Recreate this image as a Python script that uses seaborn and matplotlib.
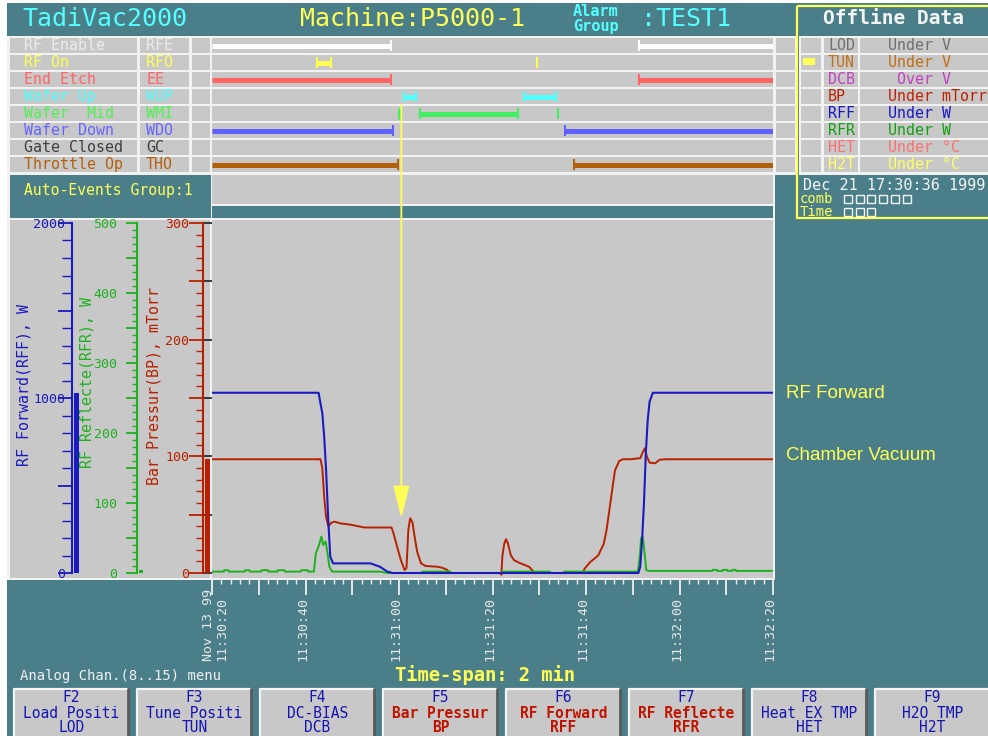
import matplotlib
matplotlib.use("Agg")
import matplotlib.pyplot as plt
from matplotlib.patches import Rectangle
from matplotlib.ticker import MultipleLocator, FixedLocator, FixedFormatter, NullFormatter
from matplotlib.transforms import ScaledTranslation
import pandas as pd
import seaborn as sns

# ---------------- data ----------------
# time axis: seconds after 11:30:20
TIME_TICKS = [0, 20, 40, 60, 80, 100, 120]
TIME_LABELS = ["11:30:20", "11:30:40", "11:31:00", "11:31:20", "11:31:40", "11:32:00", "11:32:20"]
DATE_LABEL = "Nov 13 99"

RFF_T = [0, 22.8, 23.2, 23.6, 24.0, 24.4, 24.9, 25.3, 25.9, 33.9, 35.9, 37.5, 38.7,
         91.2, 91.6, 92.0, 92.4, 92.8, 93.2, 93.6, 94.3, 120]
RFF_V = [1030, 1030, 970, 913, 779, 589, 285, 93, 55, 55, 36, 8, 0,
         0, 36, 189, 400, 686, 874, 979, 1030, 1030]

BP_T = [0, 23.2, 23.6, 24.0, 24.4, 24.9, 25.5, 26.2, 27.5, 29.5, 32.6, 38.4, 38.8, 39.6,
        40.4, 41.2, 41.6, 42.0, 42.4, 42.9, 43.3, 43.9, 44.7, 45.7, 48.2, 49.4, 50.2, 51.0,
        61.7, 61.9, 62.1, 62.5, 62.9, 63.3, 63.9, 64.6, 65.8, 67.8, 68.6, 69.0,
        79.3, 79.7, 80.9, 82.6, 83.8, 84.4, 85.0, 85.7, 86.2, 87.1, 87.9, 89.5,
        91.6, 92.2, 92.6, 93.0, 93.6, 94.8, 95.7, 96.9, 120]
BP_V = [97.5, 97.5, 90, 65, 48, 40, 43, 44, 42.5, 41.5, 39, 39, 34.3, 22.5,
        11, 2.6, 4.3, 37, 47, 43, 32, 18, 8.3, 6, 5.4, 4.3, 2.9, 0,
        0, -1.5, 14, 25, 29, 25.4, 15.4, 11, 8.6, 5.4, 2, 0,
        0, 3.7, 9.4, 15, 25, 37, 54, 74, 88, 96, 97.5, 97.5,
        98.4, 104, 107, 100, 94.6, 94, 97, 97.5, 97.5]

RFR_T = [0, 2.5, 2.6, 3.5, 3.6, 7.0, 7.1, 8.0, 8.1, 10.5, 10.6, 12.0, 12.1, 14.0, 14.1,
         15.5, 15.6, 19.0, 19.1, 20.5, 20.6, 21.8, 22.2, 22.8, 23.4, 23.8, 24.3, 24.7,
         25.1, 25.7, 35.9, 37.5, 44.9, 45.0, 51.0, 51.1, 62.0, 62.1, 72.3, 72.4, 75.2,
         75.3, 91.1, 91.5, 91.8, 92.1, 92.3, 92.6, 92.9, 93.6, 107.0, 107.1, 108.0,
         108.1, 109.2, 109.3, 110.2, 110.3, 111.2, 111.3, 112.0, 112.1, 120]
RFR_V = [2, 2, 4, 4, 2, 2, 4, 4, 2, 2, 4, 4, 2, 2, 4,
         4, 2, 2, 4, 4, 2, 2, 28, 38, 52, 40, 45, 29,
         9, 2, 2, 0, 0, 2, 2, 0, 0, 2, 2, 0, 0,
         2, 2, 24, 50, 52, 43, 24, 4, 3, 3, 4.5, 4.5,
         3, 3, 4.5, 4.5, 3, 3, 4.5, 4.5, 3, 3]

CURSOR_T = 40.5

EVENT_NAMES = ["RF Enable", "RF On", "End Etch", "Wafer Up", "Wafer  Mid",
               "Wafer Down", "Gate Closed", "Throttle Op"]
EVENT_CODES = ["RFE", "RFO", "EE", "WUP", "WMI", "WDO", "GC", "THO"]
EVENT_SPANS = [
    [(0, 38.3), (91.4, 120)],
    [(22.5, 25.5)],
    [(0, 38.3), (91.4, 120)],
    [(41.1, 43.6), (66.7, 73.6)],
    [(44.5, 65.5)],
    [(0, 38.7), (75.5, 120)],
    [],
    [(0, 39.8), (77.4, 120)],
]
EVENT_MARKS = [[], [69.5], [], [], [40.0, 74.0], [], [], []]

ALARM_CODES = ["LOD", "TUN", "DCB", "BP", "RFF", "RFR", "HET", "H2T"]
ALARM_TEXTS = ["Under V", "Under V", " Over V", "Under mTorr",
               "Under W", "Under W", "Under °C", "Under °C"]

GAUGE_RFF = 1030
GAUGE_RFR = 4
GAUGE_BP = 98

FKEY_NUMS = ["F2", "F3", "F4", "F5", "F6", "F7", "F8", "F9"]
FKEY_NAMES = ["Load Positi", "Tune Positi", "DC-BIAS", "Bar Pressur",
              "RF Forward", "RF Reflecte", "Heat EX TMP", "H2O TMP"]
FKEY_CODES = ["LOD", "TUN", "DCB", "BP", "RFF", "RFR", "HET", "H2T"]
FKEY_ACTIVE = [False, False, False, True, True, True, False, False]

# ---------------- style ----------------
sns.set_theme(style="white")
plt.rcParams["font.family"] = ["DejaVu Sans Mono", "DejaVu Sans"]
MONO = ["DejaVu Sans Mono", "DejaVu Sans"]
SANS = ["Liberation Sans", "DejaVu Sans"]

TEAL = "#4A7F8A"
GRAY = "#C8C8C8"
WHITE = "#F2F2F2"
CYAN = "#55FFFF"
YELLOW = "#FFFF55"
BLUE = "#1A1AC0"
GREEN = "#1EB01E"
RED = "#B82000"

EVENT_TEXT_COLORS = ["#ECECEC", "#FFFF50", "#FF6464", "#50FFFF", "#50F050",
                     "#6464FF", "#404040", "#B4600A"]
EVENT_BAR_COLORS = ["#FFFFFF", "#FFFF50", "#FF6464", "#50FFFF", "#40F060",
                    "#6060FF", "#404040", "#B4600A"]
ALARM_COLORS = ["#707070", "#C07018", "#C040C0", "#C02000", "#1818C8",
                "#10A010", "#FF7070", "#FFFF60"]

W, H = 988, 736
fig = plt.figure(figsize=(W / 100, H / 100), dpi=100)


def px_rect(x0, y0, x1, y1):
    return [x0 / W, 1 - y1 / H, (x1 - x0) / W, (y1 - y0) / H]


bg = fig.add_axes([0, 0, 1, 1], zorder=0)
bg.set_xlim(0, W)
bg.set_ylim(H, 0)
bg.axis("off")


def box(x0, y0, x1, y1, fc, ec="none", lw=0.0, fill=True, z=1):
    bg.add_patch(Rectangle((x0, y0), x1 - x0, y1 - y0, facecolor=fc if fill else "none",
                           edgecolor=ec, linewidth=lw, fill=fill, zorder=z))


def txt(x, y, s, color, size=10.8, family=MONO, weight="normal", ha="left", va="center", **kw):
    bg.text(x, y, s, color=color, fontsize=size, family=family, fontweight=weight,
            ha=ha, va=va, zorder=5, **kw)


# screen background
box(0, 0, W, H, "white")
box(7, 3, W, H, TEAL)
box(7, 36, 797, 175, WHITE)
box(7, 175, 775, 580, WHITE)
box(799, 36, 992, 175, WHITE)

# header
txt(22, 19, "TadiVac2000", CYAN, size=18)
txt(300, 19, "Machine:P5000-1", YELLOW, size=18)
txt(573, 11, "Alarm", CYAN, size=11, weight="bold")
txt(573, 26, "Group", CYAN, size=11, weight="bold")
txt(641, 19, ":TEST1", CYAN, size=18)

# event rows
ROW_H = 17
for i in range(8):
    y0 = 37 + ROW_H * i + 1
    y1 = 37 + ROW_H * (i + 1) - 1
    for (a, b) in [(10, 137), (140, 189), (192, 210), (212, 773), (776, 795)]:
        box(a, y0, b, y1, GRAY)
    for (a, b) in [(801, 821), (824, 858), (860, 992)]:
        box(a, y0, b, y1, GRAY)
    yc = 37 + ROW_H * i + 8.5
    txt(24, yc, EVENT_NAMES[i], EVENT_TEXT_COLORS[i])
    txt(146, yc, EVENT_CODES[i], EVENT_TEXT_COLORS[i])
    txt(828, yc, ALARM_CODES[i], ALARM_COLORS[i])
    txt(888, yc, ALARM_TEXTS[i], ALARM_COLORS[i])
box(803, 58, 815, 65, YELLOW, z=2)

# right panel
box(797, 6, 998, 218, "none", ec=YELLOW, lw=1.6, fill=False, z=4)
txt(823, 19, "Offline Data", "#F4F4F4", size=14, weight="bold")
txt(803, 185, "Dec 21 17:30:36 1999", "#F4F4F4", size=10.9)
txt(800, 199, "comb", YELLOW, size=10)
txt(800, 212, "Time", YELLOW, size=10)
for k in range(6):
    box(844 + 11.7 * k, 195, 852 + 11.7 * k, 203, "none", ec="#F4F4F4", lw=1.0, fill=False, z=3)
for k in range(3):
    box(844 + 11.7 * k, 208, 852 + 11.7 * k, 216, "none", ec="#F4F4F4", lw=1.0, fill=False, z=3)

# band under event rows
box(10, 175, 211, 218, TEAL)
box(212, 175, 773, 204, GRAY)
box(212, 206, 773, 218, TEAL)
txt(24, 190, "Auto-Events Group:1", YELLOW, size=10.6)

# gauge panel
box(10, 220, 210, 578, GRAY)

# labels outside plot
txt(786, 393, "RF Forward", YELLOW, size=13.5, family=SANS)
txt(786, 455, "Chamber Vacuum", YELLOW, size=13.5, family=SANS)
txt(332, 386, "Start", YELLOW, size=14, family=SANS)
txt(437, 358, "Process", YELLOW, size=14, family=SANS)
txt(600, 386, "End", YELLOW, size=14, family=SANS)
txt(20, 676, "Analog Chan.(8..15) menu", "#F0F0F0", size=10)
txt(395, 675, "Time-span: 2 min", YELLOW, size=13.5, weight="bold")

# gauge axis titles
txt(24, 385, "RF Forward(RFF), W", BLUE, size=10.8, ha="center", rotation=90)
txt(87, 383, "RF Reflecte(RFR), W", GREEN, size=10.8, ha="center", rotation=90)
txt(154, 386, "Bar Pressur(BP), mTorr", RED, size=10.8, ha="center", rotation=90)

# function keys
for k in range(8):
    x0 = 14 + 123 * k
    box(x0, 688, x0 + 115, 740, GRAY, z=2)
    bg.plot([x0, x0, x0 + 113], [740, 689, 689], color="#F4F4F4", lw=1.6, zorder=3)
    bg.plot([x0 + 114, x0 + 114], [689, 740], color="#5A5A5A", lw=2.0, zorder=3)
    cx = x0 + 57.5
    active = FKEY_ACTIVE[k]
    c2 = "#C01400" if active else "#1414B4"
    wt = "bold" if active else "normal"
    txt(cx, 698, FKEY_NUMS[k], "#1414B4", size=10.5, ha="center")
    txt(cx, 713, FKEY_NAMES[k], c2, size=10.5, ha="center", weight=wt)
    txt(cx, 727, FKEY_CODES[k], c2, size=10.5, ha="center", weight=wt)

# ---------------- event timeline ----------------
axe = fig.add_axes(px_rect(212, 37, 773, 173), zorder=1)
axe.patch.set_alpha(0)
axe.set_xlim(0, 120)
axe.set_ylim(8, 0)
axe.axis("off")
for i in range(8):
    yc = i + 0.5
    col = EVENT_BAR_COLORS[i]
    for (a, b) in EVENT_SPANS[i]:
        axe.hlines(yc, a, b, color=col, lw=3.6, capstyle="butt")
        if a > 0.5:
            axe.vlines(a, yc - 0.33, yc + 0.33, color=col, lw=1.5)
        if b < 119.5:
            axe.vlines(b, yc - 0.33, yc + 0.33, color=col, lw=1.5)
    for t in EVENT_MARKS[i]:
        axe.vlines(t, yc - 0.33, yc + 0.33, color=col, lw=1.5 if t > 50 else 2.2)

# ---------------- main chart ----------------
TOP, BOT, ZERO, FULL = 220, 578, 573, 223


def lims(vmax):
    per = vmax / (ZERO - FULL)
    return (-(BOT - ZERO) * per, vmax + (FULL - TOP) * per)


ax = fig.add_axes(px_rect(212, TOP, 773, BOT), zorder=2)
ax.set_facecolor(GRAY)
for s in ax.spines.values():
    s.set_visible(False)
ax.set_xlim(0, 120)
ax.set_ylim(*lims(300))
ax.xaxis.set_major_locator(MultipleLocator(10))
ax.xaxis.set_minor_locator(MultipleLocator(2))
ax.xaxis.set_major_formatter(NullFormatter())
ax.tick_params(axis="x", which="major", direction="out", length=12, width=1.3,
               color="#F0F0F0", bottom=True)
ax.tick_params(axis="x", which="minor", direction="out", length=4, width=1.0,
               color="#F0F0F0", bottom=True)
ax.tick_params(axis="y", left=False, labelleft=False)
ax.grid(False)

sns.lineplot(data=pd.DataFrame({"t": BP_T, "v": BP_V}), x="t", y="v", ax=ax,
             color=RED, lw=1.4, estimator=None, sort=False)
ax.set_xlabel("")
ax.set_ylabel("")
ax.set_xlim(0, 120)
ax.set_ylim(*lims(300))

tw_rfr = ax.twinx()
sns.lineplot(data=pd.DataFrame({"t": RFR_T, "v": RFR_V}), x="t", y="v", ax=tw_rfr,
             color=GREEN, lw=1.4, estimator=None, sort=False)
tw_rfr.set_ylim(*lims(500))
tw_rfr.axis("off")

tw_rff = ax.twinx()
sns.lineplot(data=pd.DataFrame({"t": RFF_T, "v": RFF_V}), x="t", y="v", ax=tw_rff,
             color=BLUE, lw=1.5, estimator=None, sort=False)
tw_rff.set_ylim(*lims(2000))
tw_rff.set_xlim(0, 120)
tw_rff.axis("off")

# cursor arrow from event rows down into the chart
tw_rff.annotate("", xy=(CURSOR_T, 314), xytext=(CURSOR_T, 4.0), textcoords=axe.transData,
                arrowprops=dict(arrowstyle="-|>,head_length=2.0,head_width=0.5",
                                color=YELLOW, lw=1.3, shrinkA=0, shrinkB=0,
                                mutation_scale=10),
                annotation_clip=False, zorder=10)

# rotated time labels
ylab = -(661 - BOT) / (BOT - TOP)
xtr = ax.get_xaxis_transform()
for t, lab in zip(TIME_TICKS, TIME_LABELS):
    dx = 10 if t == 0 else -3
    ax.text(t, ylab, lab, rotation=90, ha="center", va="bottom", color="#E8E8E8",
            fontsize=9.6, family=MONO,
            transform=xtr + ScaledTranslation(dx / 100, 0, fig.dpi_scale_trans))
ax.text(TIME_TICKS[0], ylab, DATE_LABEL, rotation=90, ha="center", va="bottom",
        color="#E8E8E8", fontsize=9.6, family=MONO,
        transform=xtr + ScaledTranslation(-4 / 100, 0, fig.dpi_scale_trans))

# ---------------- gauges ----------------


def gauge(x_axis, x_end, vmax, value, color, major, labels, minor, maj_len, min_len, pad,
          xlim, bar_w):
    g = fig.add_axes(px_rect(x_axis, TOP, x_end, BOT), zorder=3)
    g.patch.set_alpha(0)
    sns.barplot(x=[0], y=[value], ax=g, color=color, width=bar_w, saturation=1,
                linewidth=0)
    g.set_xlim(*xlim)
    g.set_ylim(*lims(vmax))
    for k in ["top", "right", "bottom"]:
        g.spines[k].set_visible(False)
    g.spines["left"].set_visible(True)
    g.spines["left"].set_color(color)
    g.spines["left"].set_linewidth(1.5)
    g.spines["left"].set_bounds(0, vmax)
    g.yaxis.set_major_locator(FixedLocator(major))
    g.yaxis.set_major_formatter(FixedFormatter(labels))
    g.yaxis.set_minor_locator(MultipleLocator(minor))
    g.tick_params(axis="y", which="major", direction="out", length=maj_len, width=1.3,
                  color=color, labelcolor=color, labelsize=9.5, pad=pad, left=True)
    g.tick_params(axis="y", which="minor", direction="out", length=min_len, width=1.0,
                  color=color, left=True)
    g.tick_params(axis="x", bottom=False, labelbottom=False)
    for lab in g.get_yticklabels():
        lab.set_family(MONO)
    g.set_xlabel("")
    g.set_ylabel("")
    g.grid(False)
    return g


gauge(72, 82, 2000, GAUGE_RFF, BLUE, [0, 500, 1000, 1500, 2000],
      ["0", "", "1000", "", "2000"], 100, 10, 7, -5, (-0.9, 1.1), 1.0)
gauge(137, 147, 500, GAUGE_RFR, GREEN, [0, 50, 100, 150, 200, 250, 300, 350, 400, 450, 500],
      ["0", "", "100", "", "200", "", "300", "", "400", "", "500"], 10, 8, 3.5, 6,
      (-0.8, 1.2), 0.8)
gauge(203, 213, 300, GAUGE_BP, RED, [0, 50, 100, 150, 200, 250, 300],
      ["0", "", "100", "", "200", "", "300"], 10, 10, 5, 0, (-0.9, 1.1), 1.0)

fig.savefig("out.png", dpi=100)
